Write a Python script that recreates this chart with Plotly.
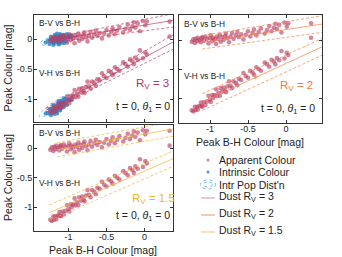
import numpy as np
import plotly.graph_objects as go

W, H = 342, 257
FONT = "Liberation Sans, Arial, sans-serif"
INK = "#222222"

# ---------------- data ----------------
# apparent peak colours (same SNe in every panel)
bh_app = [-1.24, -1.22, -1.20, -1.19, -1.17, -1.16, -1.14, -1.12, -1.11, -1.10,
          -1.08, -1.06, -1.04, -1.02, -1.00, -0.99, -0.97, -0.96, -0.94, -0.92,
          -0.91, -0.89, -0.87, -0.86, -0.84, -0.82, -0.80, -0.79, -0.77, -0.75,
          -0.73, -0.71, -0.69, -0.66, -0.64, -0.62, -0.59, -0.56, -0.53, -0.50,
          -0.47, -0.44, -0.42, -0.39, -0.36, -0.33, -0.28, -0.25, -0.22, -0.19,
          -0.16, -0.14, -0.12, -0.09, -0.06, -0.02, 0.01, 0.03, 0.33]
bv_app = [-0.03, 0.01, -0.05, 0.02, -0.02, 0.04, 0.00, -0.04, 0.03, 0.05,
          -0.01, 0.06, 0.02, -0.06, 0.03, 0.08, -0.02, 0.04, 0.01, -0.07,
          0.06, 0.02, 0.09, -0.03, 0.05, 0.00, 0.07, 0.11, 0.03, -0.04,
          0.06, 0.12, 0.02, 0.08, 0.14, 0.05, 0.10, 0.01, 0.09, 0.15,
          0.06, 0.12, 0.18, 0.08, 0.14, 0.20, 0.11, 0.17, 0.24, 0.15,
          0.21, 0.28, 0.19, 0.26, 0.13, 0.30, 0.23, 0.29, 0.29]
vh_app = [-1.21, -1.23, -1.15, -1.21, -1.15, -1.20, -1.14, -1.08, -1.14, -1.15,
          -1.07, -1.12, -1.06, -0.96, -1.03, -1.07, -0.95, -1.00, -0.95, -0.85,
          -0.97, -0.91, -0.96, -0.83, -0.89, -0.82, -0.87, -0.90, -0.80, -0.71,
          -0.79, -0.83, -0.71, -0.74, -0.78, -0.67, -0.69, -0.57, -0.62, -0.65,
          -0.53, -0.56, -0.60, -0.47, -0.50, -0.53, -0.39, -0.42, -0.46, -0.34,
          -0.37, -0.42, -0.31, -0.35, -0.19, -0.32, -0.22, -0.26, 0.04]

# intrinsic peak colours (panel 1 only)
bh_int = [-1.30, -1.27, -1.25, -1.24, -1.22, -1.21, -1.20, -1.19, -1.18, -1.17,
          -1.16, -1.16, -1.15, -1.14, -1.14, -1.13, -1.12, -1.12, -1.11, -1.10,
          -1.10, -1.09, -1.08, -1.07, -1.06, -1.05, -1.04, -1.03, -1.02, -1.00,
          -0.98, -0.96, -1.23, -1.18, -1.13, -1.09, -1.15, -1.20, -1.11, -1.06]
bv_int = [-0.06, -0.03, -0.08, 0.00, -0.05, -0.02, 0.03, -0.07, -0.01, 0.02,
          -0.04, 0.05, 0.00, -0.06, 0.03, -0.02, 0.06, -0.08, 0.01, -0.03,
          0.04, 0.00, -0.05, 0.07, 0.02, -0.01, 0.05, -0.03, 0.08, 0.02,
          0.04, 0.06, 0.04, 0.07, -0.09, -0.06, 0.09, -0.10, 0.08, -0.07]
vh_int = [-1.24, -1.24, -1.17, -1.24, -1.17, -1.19, -1.23, -1.12, -1.17, -1.19,
          -1.12, -1.21, -1.15, -1.08, -1.17, -1.11, -1.18, -1.04, -1.12, -1.07,
          -1.14, -1.09, -1.03, -1.14, -1.08, -1.04, -1.09, -1.00, -1.10, -1.02,
          -1.02, -1.02, -1.27, -1.25, -1.04, -1.03, -1.24, -1.10, -1.19, -0.99]

# intrinsic population ellipses: centre x, centre y, x half-width, y-shear, y half-width
ell_bv = [-1.13, -0.01, 0.24, 0.25, 0.08]
ell_vh = [-1.16, -1.10, 0.23, 0.80, 0.08]
ell_scales = [0.55, 1.0]

# dust reddening model lines for each panel
dust_rv = ["3", "2", "1.5"]
bv_x0 = [-1.15, -1.10, -1.15]
bv_y0 = [-0.01, -0.04, -0.03]
bv_slope = [0.21, 0.20, 0.23]
bv_w0 = [0.04, 0.115, 0.12]
bv_w1 = [0.12, 0.145, 0.12]
vh_x0 = [-1.30, -1.10, -1.25]
vh_y0 = [-1.19, -1.07, -1.09]
vh_slope = [0.68, 0.605, 0.56]
vh_w0 = [0.03, 0.145, 0.13]
vh_w1 = [0.13, 0.145, 0.13]
line_x_end = 0.55
arrow_x = -0.35

tick_vals = [-1, -0.5, 0]
tick_text = ["-1", "-0.5", "0"]

# ---------------- style ----------------
COL_APP = "rgba(188,58,92,0.62)"
COL_INT = "rgba(40,140,212,0.85)"
COL_ELL = "rgba(50,150,220,0.9)"
dust_cols = ["#b53459", "#f5793a", "#f0b42c"]
dust_line_cols = ["rgba(190,55,95,0.85)", "rgba(246,130,70,0.9)", "rgba(242,185,60,0.95)"]
legend_line_cols = ["#dba3b6", "#f9a27a", "#f6d084"]

def fx(p):
    return p / W

def fy(p):
    return 1 - p / H

# panels: pixel boxes (left, right, top, bottom), x range, y range
panel_box = [(34, 173, 15, 122), (179, 322, 15, 123), (34, 173, 125, 231)]
panel_xr = [[(34 - 144.5) / 76, (173 - 144.5) / 76],
            [(179 - 286) / 76, (322 - 286) / 76],
            [(34 - 144.5) / 76, (173 - 144.5) / 76]]
panel_yr = [[-1 - (122 - 99) / 60, (39 - 15) / 60],
            [-1 - (123 - 98) / 58, (40 - 15) / 58],
            [-1 - (231 - 207.3) / 59.3, (148 - 125) / 59.3]]

fig = go.Figure()

def axname(i, a):
    return a if i == 0 else f"{a}{i + 1}"

for i in range(3):
    xa, ya = axname(i, "x"), axname(i, "y")
    # intrinsic population (panel 1)
    if i == 0:
        t = np.linspace(0, 2 * np.pi, 90)
        for e in (ell_bv, ell_vh):
            for s in ell_scales:
                ex = e[0] + s * e[2] * np.cos(t)
                ey = e[1] + e[3] * s * e[2] * np.cos(t) + s * e[4] * np.sin(t)
                fig.add_trace(go.Scatter(x=ex, y=ey, mode="lines", xaxis=xa, yaxis=ya,
                                         line=dict(color=COL_ELL, width=0.7, dash="dot"),
                                         showlegend=False, hoverinfo="skip"))
        for yy in (bv_int, vh_int):
            fig.add_trace(go.Scatter(x=bh_int, y=yy, mode="markers", xaxis=xa, yaxis=ya,
                                     marker=dict(size=4.2, color=COL_INT, line=dict(width=0)),
                                     showlegend=False, hoverinfo="skip"))
    # apparent colours
    for yy in (bv_app, vh_app):
        fig.add_trace(go.Scatter(x=bh_app, y=yy, mode="markers", xaxis=xa, yaxis=ya,
                                 marker=dict(size=4.6, color=COL_APP, line=dict(width=0)),
                                 showlegend=False, hoverinfo="skip"))
    # dust lines
    for (x0, y0, s, w0, w1) in ((bv_x0[i], bv_y0[i], bv_slope[i], bv_w0[i], bv_w1[i]),
                                (vh_x0[i], vh_y0[i], vh_slope[i], vh_w0[i], vh_w1[i])):
        lx = np.linspace(x0, line_x_end, 40)
        ly = y0 + s * (lx - x0)
        w = w0 + (w1 - w0) * (lx - x0) / (line_x_end - x0)
        fig.add_trace(go.Scatter(x=lx, y=ly, mode="lines", xaxis=xa, yaxis=ya,
                                 line=dict(color=dust_line_cols[i], width=0.8),
                                 showlegend=False, hoverinfo="skip"))
        for sg in (1, -1):
            fig.add_trace(go.Scatter(x=lx, y=ly + sg * w, mode="lines", xaxis=xa, yaxis=ya,
                                     line=dict(color=dust_line_cols[i], width=0.8, dash="3px,2px"),
                                     showlegend=False, hoverinfo="skip"))
        ax_ = np.array([arrow_x - 0.02, arrow_x])
        fig.add_trace(go.Scatter(x=ax_, y=y0 + s * (ax_ - x0), mode="markers", xaxis=xa, yaxis=ya,
                                 marker=dict(symbol="arrow", angleref="previous", size=[0, 6],
                                             color=dust_line_cols[i], line=dict(width=0)),
                                 showlegend=False, hoverinfo="skip"))

axis_common = dict(showline=True, linecolor="#333333", linewidth=1, mirror="allticks",
                   ticks="inside", ticklen=3, tickwidth=1, tickcolor="#333333",
                   showgrid=False, zeroline=False, tickvals=tick_vals, ticktext=tick_text,
                   tickfont=dict(family=FONT, size=9, color=INK))

layout = dict(width=W, height=H, margin=dict(l=0, r=0, t=0, b=0),
              paper_bgcolor="white", plot_bgcolor="white", showlegend=False,
              font=dict(family=FONT, color=INK))
for i in range(3):
    l, r, t_, b = panel_box[i]
    layout[axname(i, "xaxis")] = dict(axis_common, domain=[fx(l), fx(r)], range=panel_xr[i],
                                      anchor=axname(i, "y"), ticklabelstandoff=-3,
                                      showticklabels=(i != 0))
    layout[axname(i, "yaxis")] = dict(axis_common, domain=[fy(b), fy(t_)], range=panel_yr[i],
                                      anchor=axname(i, "x"), ticklabelstandoff=-1,
                                      showticklabels=(i != 1))
fig.update_layout(**layout)

ann = []
def text(x, y, s, size, color=INK, xanchor="left", angle=0):
    ann.append(dict(x=fx(x), y=fy(y), xref="paper", yref="paper", text=s, showarrow=False,
                    xanchor=xanchor, yanchor="middle", textangle=angle,
                    font=dict(family=FONT, size=size, color=color)))

label_pos = [  # (left x, B-V y, V-H y, R_V centre x, R_V y, t right x, t y)
    (37, 22.5, 73, 152, 84, 172, 107),
    (182, 24, 75.5, 296, 86, 317, 109),
    (37, 132.5, 183, 153, 199, 172, 216),
]
for i in range(3):
    lx, yb, yv, rx, ry, tx, ty = label_pos[i]
    text(lx, yb, "B-V vs B-H", 8.3)
    text(lx, yv, "V-H vs B-H", 8.3)
    text(rx, ry, f"R<sub>V</sub> = {dust_rv[i]}", 11.5, dust_cols[i], xanchor="center")
    text(tx, ty, "t = 0, <i>θ</i><sub>1</sub> = 0", 10.5, INK, xanchor="right")

text(8, 68.5, "Peak Colour [mag]", 10.5, angle=-90, xanchor="center")
text(8, 178, "Peak Colour [mag]", 10.5, angle=-90, xanchor="center")
text(103, 249.5, "Peak B-H Colour [mag]", 10.5, xanchor="center")
text(250, 141.5, "Peak B-H Colour [mag]", 10.5, xanchor="center")

# legend (drawn manually)
leg_text = ["Apparent Colour", "Intrinsic Colour", "Intr Pop Dist'n",
            "Dust R<sub>V</sub> = 3", "Dust R<sub>V</sub> = 2", "Dust R<sub>V</sub> = 1.5"]
leg_y = [160, 172, 184.5, 197, 214, 231]
for s, y in zip(leg_text, leg_y):
    text(216.5, y, s, 10.5)

shapes = []
shapes.append(dict(type="circle", xref="paper", yref="paper", x0=fx(206.5), x1=fx(209.5),
                   y0=fy(161.5), y1=fy(158.5), fillcolor=COL_APP, line=dict(width=0)))
shapes.append(dict(type="circle", xref="paper", yref="paper", x0=fx(206.5), x1=fx(209.5),
                   y0=fy(173.5), y1=fy(170.5), fillcolor=COL_INT, line=dict(width=0)))
for (a, b, c, d) in ((200.5, 215.5, 180, 189), (203.5, 212.5, 182, 187)):
    shapes.append(dict(type="circle", xref="paper", yref="paper", x0=fx(a), x1=fx(b),
                       y0=fy(d), y1=fy(c), line=dict(color=COL_ELL, width=0.7, dash="dot")))
for k, y in enumerate([198, 215, 232]):
    shapes.append(dict(type="line", xref="paper", yref="paper", x0=fx(201), x1=fx(215),
                       y0=fy(y), y1=fy(y), line=dict(color=legend_line_cols[k], width=1.2)))

fig.update_layout(annotations=ann, shapes=shapes)
fig.write_html("out.html", config={"displayModeBar": False},
               post_script="document.body.style.margin='0';document.body.style.overflow='hidden';")
